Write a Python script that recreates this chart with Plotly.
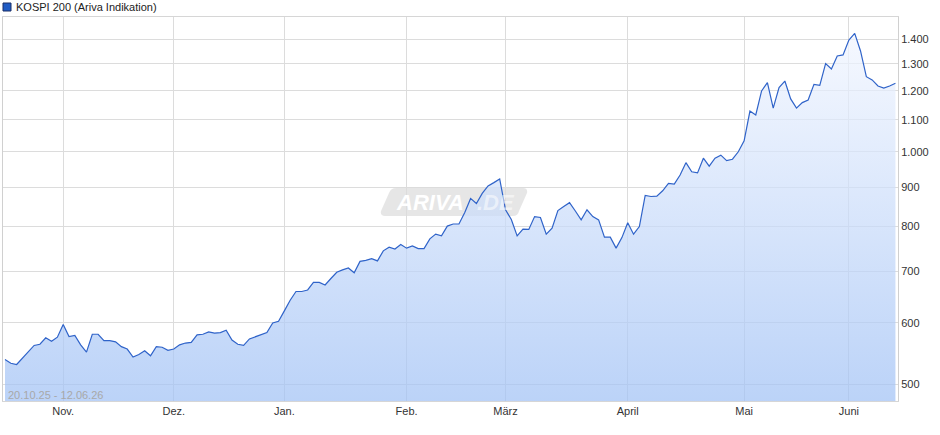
import plotly.graph_objects as go

# ---------------- data ----------------
legend_label = "KOSPI 200 (Ariva Indikation)"
period_label = "20.10.25 - 12.06.26"

values = [538, 532, 530, 540, 551, 561, 563, 574, 568, 575,
          597, 576, 578, 562, 550, 580, 580, 569, 569, 567,
          559, 555, 542, 546, 552, 544, 559, 558, 553, 555,
          562, 565, 566, 579, 580, 584, 582, 583, 587, 570,
          563, 561, 572, 576, 579, 583, 600, 603, 622, 642,
          659, 659, 662, 677, 677, 672, 685, 698, 703, 707,
          697, 721, 723, 727, 722, 744, 752, 748, 758, 750,
          755, 749, 749, 771, 782, 778, 801, 806, 806, 834,
          870, 857, 883, 903, 912, 922, 841, 817, 778, 794,
          793, 824, 822, 782, 796, 839, 849, 859, 838, 816,
          841, 824, 816, 775, 775, 750, 774, 809, 782, 800,
          878, 875, 876, 890, 910, 908, 933, 968, 942, 939,
          981, 958, 981, 990, 974, 978, 1000, 1033, 1129, 1116,
          1199, 1229, 1139, 1211, 1235, 1171, 1139, 1158, 1167, 1223,
          1219, 1301, 1280, 1331, 1335, 1396, 1424, 1351, 1251, 1239,
          1217, 1209, 1217, 1227]

month_tick_index = [10, 29, 48, 69, 86, 107, 127, 145]
month_tick_text = ["Nov.", "Dez.", "Jan.", "Feb.", "März", "April", "Mai", "Juni"]

y_tick_vals = [500, 600, 700, 800, 900, 1000, 1100, 1200, 1300, 1400]
y_tick_text = ["500", "600", "700", "800", "900", "1.000", "1.100", "1.200", "1.300", "1.400"]

baseline_value = 470  # bottom of area fill (below visible range)

x_index = list(range(len(values)))

# ---------------- layout geometry (pixels) ----------------
W_FIG, H_FIG = 940, 435
L, T = 3, 17
PW, PH = 895, 384
FONT = "Liberation Sans, Arial, sans-serif"


def px(x):
    return (x - L) / PW


def py(y):
    return (T + PH - y) / PH


fig = go.Figure()

# baseline for fill
fig.add_trace(go.Scatter(
    x=x_index, y=[baseline_value] * len(values), mode="lines",
    line=dict(width=0, color="rgba(0,0,0,0)"), hoverinfo="skip", showlegend=False))

fig.add_trace(go.Scatter(
    x=x_index, y=values, mode="lines", name=legend_label,
    line=dict(color="#2f63c9", width=1.2),
    fill="tonexty",
    fillgradient=dict(type="vertical",
                      colorscale=[[0, "rgba(160,193,245,0.72)"],
                                  [1, "rgba(242,246,255,0.72)"]]),
    showlegend=False))

# watermark shape (rounded parallelogram)
pts = [(396, 188), (523, 188), (528, 188), (527, 193), (519, 211), (518, 216),
       (513, 216), (385, 216), (380, 216), (381, 211), (389, 193), (391, 188)]
P = [(px(a), py(b)) for a, b in pts]
path = (f"M {P[0][0]},{P[0][1]} L {P[1][0]},{P[1][1]} Q {P[2][0]},{P[2][1]} {P[3][0]},{P[3][1]} "
        f"L {P[4][0]},{P[4][1]} Q {P[5][0]},{P[5][1]} {P[6][0]},{P[6][1]} "
        f"L {P[7][0]},{P[7][1]} Q {P[8][0]},{P[8][1]} {P[9][0]},{P[9][1]} "
        f"L {P[10][0]},{P[10][1]} Q {P[11][0]},{P[11][1]} {P[0][0]},{P[0][1]} Z")

shapes = [
    dict(type="path", path=path, xref="paper", yref="paper",
         fillcolor="rgba(226,226,226,0.85)", line=dict(width=0), layer="below"),
    # legend square
    dict(type="rect", xref="paper", yref="paper",
         x0=px(3), x1=px(11), y0=py(11), y1=py(3),
         fillcolor="#1f5bc4", line=dict(color="#1a2f66", width=1)),
]

annotations = [
    dict(text=legend_label, xref="paper", yref="paper", x=px(14), y=py(7),
         xanchor="left", yanchor="middle", showarrow=False,
         font=dict(family=FONT, size=11, color="#222")),
    dict(text=period_label, xref="paper", yref="paper", x=px(6), y=py(395),
         xanchor="left", yanchor="middle", showarrow=False,
         font=dict(family=FONT, size=11, color="#a8a8a8")),
    dict(text="ARIVA", xref="paper", yref="paper", x=px(430), y=py(202),
         xanchor="center", yanchor="middle", showarrow=False,
         font=dict(family=FONT, size=22, color="white", style="italic", weight="bold")),
    dict(text=".DE", xref="paper", yref="paper", x=px(496), y=py(202),
         xanchor="center", yanchor="middle", showarrow=False,
         font=dict(family=FONT, size=22, color="rgba(255,255,255,0.55)", style="italic", weight="bold")),
]

fig.update_layout(
    width=W_FIG, height=H_FIG,
    margin=dict(l=L, r=W_FIG - L - PW, t=T, b=H_FIG - T - PH, pad=0),
    paper_bgcolor="white", plot_bgcolor="white",
    showlegend=False,
    shapes=shapes, annotations=annotations,
    xaxis=dict(range=[-0.344, 153.44], tickmode="array",
               tickvals=month_tick_index, ticktext=month_tick_text,
               showgrid=True, gridcolor="#dcdcdc", gridwidth=1, zeroline=False,
               showline=True, linecolor="#d6d6d6", linewidth=1, mirror=True,
               ticks="", tickfont=dict(family=FONT, size=11, color="#333")),
    yaxis=dict(type="log", range=[2.67694, 3.17467], side="right",
               tickmode="array", tickvals=y_tick_vals, ticktext=y_tick_text,
               showgrid=True, gridcolor="#dcdcdc", gridwidth=1, zeroline=False,
               showline=True, linecolor="#d0d0d0", linewidth=1, mirror=True,
               ticks="", tickfont=dict(family=FONT, size=11, color="#333")),
    hovermode=False,
)

fig.write_html("out.html", config=dict(displayModeBar=False),
               post_script="document.body.style.margin='0px';document.body.style.padding='0px';")
